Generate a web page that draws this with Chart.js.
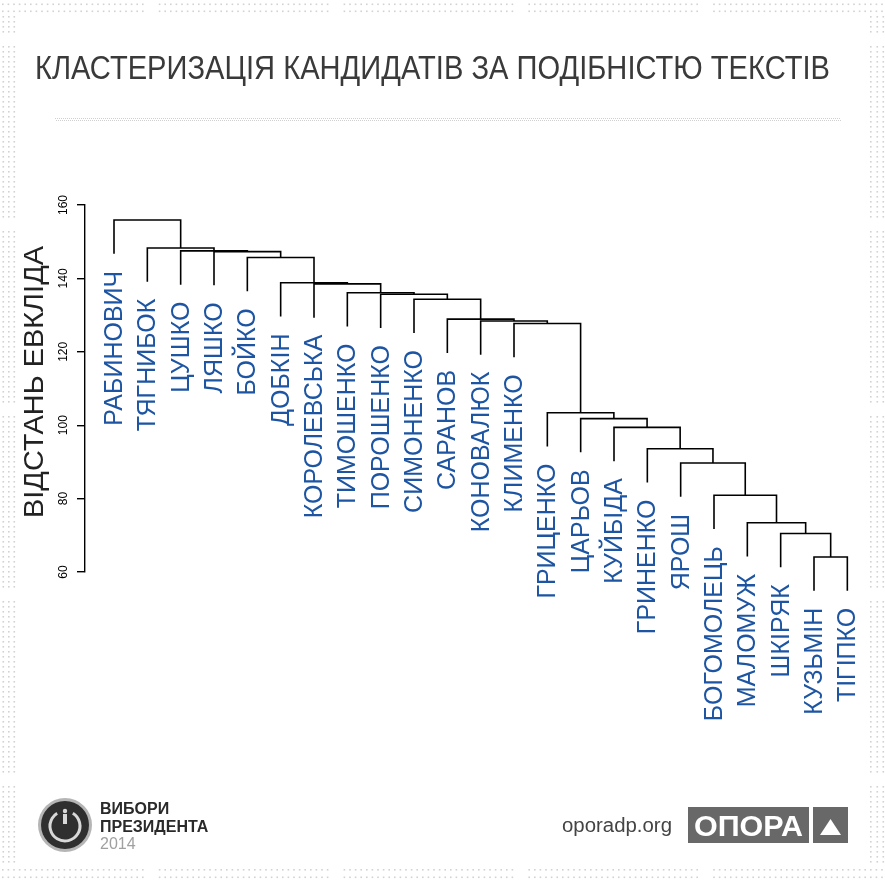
<!DOCTYPE html>
<html>
<head>
<meta charset="utf-8">
<script src="https://cdn.jsdelivr.net/npm/chart.js@4/dist/chart.umd.min.js"></script>
<style>
  html, body { margin: 0; padding: 0; background: #fff; }
  #wrap { width: 885px; height: 885px; }
</style>
</head>
<body>
<div id="wrap"><canvas id="chart" width="885" height="885"></canvas></div>
<script>
// листки дендрограми, зліва направо
const leafNames = [
    'РАБИНОВИЧ', 'ТЯГНИБОК', 'ЦУШКО', 'ЛЯШКО', 'БОЙКО', 'ДОБКІН',
    'КОРОЛЕВСЬКА', 'ТИМОШЕНКО', 'ПОРОШЕНКО', 'СИМОНЕНКО', 'САРАНОВ',
    'КОНОВАЛЮК', 'КЛИМЕНКО', 'ГРИЦЕНКО', 'ЦАРЬОВ', 'КУЙБІДА', 'ГРИНЕНКО',
    'ЯРОШ', 'БОГОМОЛЕЦЬ', 'МАЛОМУЖ', 'ШКІРЯК', 'КУЗЬМІН', 'ТІГІПКО'
];
// висота, на якій листок i приєднується до кластера справа від нього
const mergeHeights = [
    155.9, 148.3, 147.5, 147.3, 145.7, 138.8, 138.5, 136.1, 135.7, 134.3, 128.9,
    128.4, 127.7, 103.4, 101.8, 99.4, 93.6, 89.7, 80.9, 73.4, 70.5, 64.1
];
const yTicks = [60, 80, 100, 120, 140, 160];
const hang = 9.2;

const FONT = "'Liberation Sans', Arial, sans-serif";
const last = leafNames.length - 1;

// центри кластерів (ланцюжок)
const centers = [];
centers[last] = last;
for (let i = last - 1; i >= 0; i--) centers[i] = (i + centers[i + 1]) / 2;

const leafBottom = leafNames.map((n, i) => mergeHeights[Math.min(i, mergeHeights.length - 1)] - hang);

const datasets = mergeHeights.map((h, i) => {
    const r = i + 1;
    const rBottom = r === last ? h - hang : mergeHeights[r];
    return {
        data: [
            { x: i, y: h - hang },
            { x: i, y: h },
            { x: centers[r], y: h },
            { x: centers[r], y: rBottom }
        ],
        borderColor: '#000',
        borderWidth: 1.6,
        pointRadius: 0,
        tension: 0,
        fill: false,
        clip: false
    };
});

function dots(ctx, x0, x1, y0, y1, step, gaps, vertical) {
    ctx.fillStyle = '#d2d2d2';
    for (let x = x0; x <= x1; x += step) {
        for (let y = y0; y <= y1; y += step) {
            const p = vertical ? y : x;
            if (gaps.some(g => Math.abs(p - g) < 5)) continue;
            ctx.fillRect(x, y, 1.6, 1.6);
        }
    }
}

function fitText(ctx, text, x, y, width) {
    const w = ctx.measureText(text).width;
    ctx.save();
    ctx.translate(x, y);
    ctx.scale(width / w, 1);
    ctx.fillText(text, 0, 0);
    ctx.restore();
}

const decor = {
    id: 'decor',
    beforeDraw(chart) {
        const ctx = chart.ctx;
        ctx.save();
        ctx.fillStyle = '#fff';
        ctx.fillRect(0, 0, 885, 885);
        const hg = [150, 335, 520, 705];
        const vg = [40, 225, 410, 595, 780];
        // рамка з крапок
        for (const y of [3.5, 10.5]) dots(ctx, 2, 884, y, y, 5.6, hg, false);
        for (const y of [869, 876.5]) dots(ctx, 2, 884, y, y, 5.6, hg, false);
        for (const x of [2.5, 8, 13.5]) dots(ctx, x, x, 16, 862, 5, vg, true);
        for (const x of [870, 876.5, 882.5]) dots(ctx, x, x, 16, 862, 5, vg, true);

        // заголовок
        ctx.fillStyle = '#3a3a3a';
        ctx.font = '33px ' + FONT;
        ctx.textBaseline = 'alphabetic';
        ctx.textAlign = 'left';
        fitText(ctx, 'КЛАСТЕРИЗАЦІЯ КАНДИДАТІВ ЗА ПОДІБНІСТЮ ТЕКСТІВ', 35, 79, 795);

        // пунктир під заголовком
        ctx.fillStyle = '#d0d0d0';
        for (let x = 55; x < 840; x += 2) {
            ctx.fillRect(x, 118, 1, 1);
            ctx.fillRect(x + 1, 120, 1, 1);
        }
        ctx.restore();
    },
    afterDraw(chart) {
        const ctx = chart.ctx;
        const xs = chart.scales.x, ys = chart.scales.y;
        ctx.save();

        // підписи осі Y
        ctx.fillStyle = '#000';
        ctx.font = '12px ' + FONT;
        ctx.textAlign = 'center';
        ctx.textBaseline = 'alphabetic';
        yTicks.forEach(v => {
            ctx.save();
            ctx.translate(67, ys.getPixelForValue(v));
            ctx.rotate(-Math.PI / 2);
            ctx.fillText(String(v), 0, 0);
            ctx.restore();
        });

        // назва осі Y
        ctx.save();
        ctx.fillStyle = '#222';
        ctx.font = '28px ' + FONT;
        ctx.textAlign = 'left';
        ctx.translate(43, 518);
        ctx.rotate(-Math.PI / 2);
        fitText(ctx, 'ВІДСТАНЬ ЕВКЛІДА', 0, 0, 272);
        ctx.restore();

        // підписи листків
        ctx.fillStyle = '#1d55a2';
        ctx.font = '25px ' + FONT;
        ctx.textAlign = 'right';
        ctx.textBaseline = 'middle';
        leafNames.forEach((name, i) => {
            ctx.save();
            ctx.translate(xs.getPixelForValue(i), ys.getPixelForValue(leafBottom[i]) + 17);
            ctx.rotate(-Math.PI / 2);
            ctx.fillText(name, 0, 1);
            ctx.restore();
        });

        // логотип
        ctx.beginPath();
        ctx.arc(65, 825, 27, 0, Math.PI * 2);
        ctx.fillStyle = '#b5b5b5';
        ctx.fill();
        ctx.beginPath();
        ctx.arc(65, 825, 24, 0, Math.PI * 2);
        ctx.fillStyle = '#2f2f2f';
        ctx.fill();
        ctx.beginPath();
        ctx.arc(65, 826, 15, -Math.PI / 2 + 0.55, -Math.PI / 2 - 0.55 + Math.PI * 2);
        ctx.strokeStyle = '#d8d8d8';
        ctx.lineWidth = 3;
        ctx.stroke();
        ctx.fillStyle = '#d8d8d8';
        ctx.beginPath();
        ctx.arc(65, 811, 2.2, 0, Math.PI * 2);
        ctx.fill();
        ctx.fillRect(63, 814, 4, 10);

        ctx.textAlign = 'left';
        ctx.textBaseline = 'alphabetic';
        ctx.fillStyle = '#2a2a2a';
        ctx.font = 'bold 16px ' + FONT;
        ctx.fillText('ВИБОРИ', 100, 814);
        ctx.fillText('ПРЕЗИДЕНТА', 100, 832);
        ctx.fillStyle = '#a0a0a0';
        ctx.font = '16px ' + FONT;
        ctx.fillText('2014', 100, 849);

        ctx.fillStyle = '#444';
        ctx.font = '20px ' + FONT;
        fitText(ctx, 'oporadp.org', 562, 832, 110);

        ctx.fillStyle = '#686868';
        ctx.fillRect(688, 807, 121, 36);
        ctx.fillRect(813, 807, 35, 36);
        ctx.fillStyle = '#fff';
        ctx.font = 'bold 29px ' + FONT;
        fitText(ctx, 'ОПОРА', 694, 835.5, 109);
        ctx.beginPath();
        ctx.moveTo(830.5, 819);
        ctx.lineTo(841, 835);
        ctx.lineTo(820, 835);
        ctx.closePath();
        ctx.fill();

        ctx.restore();
    }
};

new Chart(document.getElementById('chart'), {
    type: 'line',
    data: { datasets },
    options: {
        responsive: false,
        animation: false,
        devicePixelRatio: 1,
        layout: { padding: { top: 205, bottom: 313, left: 0, right: 21 } },
        plugins: {
            legend: { display: false },
            tooltip: { enabled: false }
        },
        scales: {
            x: {
                type: 'linear',
                display: false,
                min: -0.87,
                max: 22.5
            },
            y: {
                min: 60,
                max: 160,
                afterFit(s) { s.width = 85; },
                ticks: { display: false, stepSize: 20 },
                afterBuildTicks(s) { s.ticks = yTicks.map(v => ({ value: v })); },
                grid: {
                    drawOnChartArea: false,
                    drawTicks: true,
                    tickLength: 8,
                    color: '#000',
                    lineWidth: 1.4
                },
                border: { display: true, color: '#000', width: 1.4 }
            }
        }
    },
    plugins: [decor]
});
</script>
</body>
</html>
